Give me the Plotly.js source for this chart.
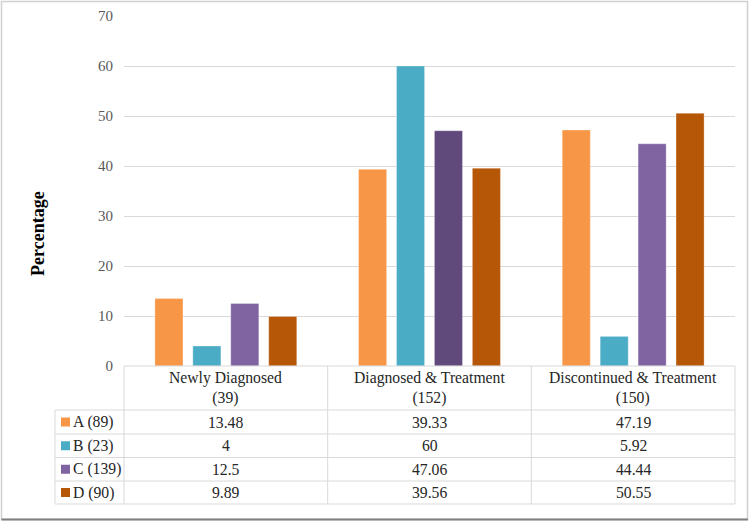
<!DOCTYPE html>
<html>
<head>
<meta charset="utf-8">
<script src="https://cdn.plot.ly/plotly-3.0.1.min.js"></script>
<style>
  html, body { margin: 0; padding: 0; background: #fff; }
  #chart { width: 750px; height: 521px; }
</style>
</head>
<body>
<div id="chart"></div>
<script>
// Patient groups (columns of the data table)
const categories = ["Newly Diagnosed<br>(39)", "Diagnosed & Treatment<br>(152)", "Discontinued & Treatment<br>(150)"];

// Series (rows of the data table)
const seriesNames = ["A (89)", "B (23)", "C (139)", "D (90)"];
const valuesA = [13.48, 39.33, 47.19];
const valuesB = [4, 60, 5.92];
const valuesC = [12.5, 47.06, 44.44];
const valuesD = [9.89, 39.56, 50.55];

const seriesValues = [valuesA, valuesB, valuesC, valuesD];
const seriesColors = ["#F79646", "#4BACC6", "#8064A2", "#B65708"];
// C's middle bar is drawn in a darker purple
const colorsC = ["#8064A2", "#604A7B", "#8064A2"];

const yTicks = [0, 10, 20, 30, 40, 50, 60, 70];

// Plot area geometry (pixels)
const W = 750, H = 521;
const M = { l: 124, r: 15, t: 16, b: 155 };
const plotW = W - M.l - M.r;
const plotH = H - M.t - M.b;
const axisBottom = H - M.b;
const px = p => (p - M.l) / plotW;          // pixel x -> paper x
const py = p => (axisBottom - p) / plotH;  // pixel y -> paper y

const serif = "Liberation Serif";
const gridColor = "#D9D9D9";
const textColor = "#262626";
const tableFont = { family: serif, size: 15.7, color: textColor };

const traces = seriesNames.map((name, i) => ({
  type: "bar",
  name: name,
  x: categories,
  y: seriesValues[i],
  marker: {
    color: i === 2 ? colorsC : seriesColors[i],
    line: { color: "rgba(255,255,255,0.6)", width: 0.5 }
  },
  hoverinfo: "x+y+name"
}));

// Data table under the axis
const tableLeft = 55, tableRight = M.l + plotW;
const headerBottom = 410;
const rowEdges = [410, 434, 457.5, 481, 504];
const shapes = [];
const annotations = [];

// horizontal rules
shapes.push({ type: "line", xref: "paper", yref: "paper",
  x0: 0, x1: px(tableRight), y0: py(axisBottom), y1: py(axisBottom),
  line: { color: gridColor, width: 1 } });
rowEdges.forEach(e => shapes.push({ type: "line", xref: "paper", yref: "paper",
  x0: px(tableLeft), x1: px(tableRight), y0: py(e), y1: py(e),
  line: { color: gridColor, width: 1 } }));
// vertical rules
shapes.push({ type: "line", xref: "paper", yref: "paper",
  x0: px(tableLeft), x1: px(tableLeft), y0: py(headerBottom), y1: py(504),
  line: { color: gridColor, width: 1 } });
[0, 1, 2, 3].forEach(k => {
  const xp = k / 3;
  shapes.push({ type: "line", xref: "paper", yref: "paper",
    x0: xp, x1: xp, y0: py(axisBottom), y1: py(504),
    line: { color: gridColor, width: 1 } });
});

// header labels
categories.forEach(c => annotations.push({
  xref: "x", yref: "paper", x: c, y: py(388), xanchor: "center", yanchor: "middle",
  text: c, showarrow: false, font: tableFont, align: "center"
}));

// rows: legend key, series name, values
seriesNames.forEach((name, i) => {
  const cy = (rowEdges[i] + rowEdges[i + 1]) / 2;
  shapes.push({ type: "rect", xref: "paper", yref: "paper",
    x0: px(61), x1: px(70), y0: py(cy + 4.5), y1: py(cy - 4.5),
    fillcolor: seriesColors[i], line: { width: 0 } });
  annotations.push({ xref: "paper", yref: "paper", x: px(71), y: py(cy),
    xanchor: "left", yanchor: "middle", text: name, showarrow: false,
    font: tableFont });
  categories.forEach((c, j) => annotations.push({
    xref: "x", yref: "paper", x: c, y: py(cy), xanchor: "center", yanchor: "middle",
    text: String(seriesValues[i][j]), showarrow: false, font: tableFont
  }));
});

// y axis title
annotations.push({ xref: "paper", yref: "paper", x: px(38), y: py(233),
  xanchor: "center", yanchor: "middle",
  text: "<b>Percentage</b>", textangle: -90, showarrow: false,
  font: { family: serif, size: 18, color: "#000" } });

// chart frame
shapes.push({ type: "rect", xref: "paper", yref: "paper",
  x0: px(1.5), x1: px(747.5), y0: py(519.5), y1: py(1.5),
  line: { color: "#D0D0D0", width: 1.5 }, layer: "below" });
shapes.push({ type: "line", xref: "paper", yref: "paper",
  x0: px(1.5), x1: px(748), y0: py(519.5), y1: py(519.5),
  line: { color: "#7F7F7F", width: 2 } });

const layout = {
  width: W, height: H,
  margin: M,
  paper_bgcolor: "#fff", plot_bgcolor: "#fff",
  showlegend: false,
  barmode: "group",
  bargap: 0.255,
  bargroupgap: 0.26,
  font: { family: serif },
  xaxis: {
    showticklabels: false, showgrid: false, zeroline: false,
    showline: false, ticks: ""
  },
  yaxis: {
    range: [0, 70], tickvals: yTicks, ticktext: yTicks.map(String),
    showgrid: true, gridcolor: gridColor, gridwidth: 1,
    zeroline: false, showline: false, ticks: "",
    ticklabelstandoff: 10,
    tickfont: { family: serif, size: 15, color: "#595959" }
  },
  shapes: shapes,
  annotations: annotations
};

Plotly.newPlot("chart", traces, layout, { displayModeBar: false, staticPlot: true });
</script>
</body>
</html>
